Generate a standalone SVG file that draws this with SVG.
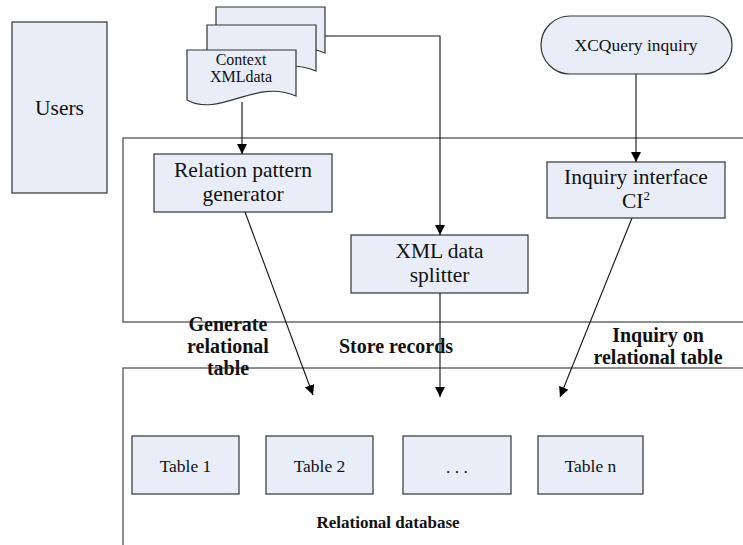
<svg xmlns="http://www.w3.org/2000/svg" width="743" height="545" viewBox="0 0 743 545">
<style>
.box{fill:#E8EDF7;stroke:#333;stroke-width:1.2}
.frame{fill:none;stroke:#444;stroke-width:1.2}
.t{font-family:"Liberation Serif","Times New Roman",serif;fill:#111;text-anchor:middle}
.big{font-size:21.5px}
.mid{font-size:17.5px}
.sm{font-size:16px}
.lbl{font-size:20px;font-weight:bold}
.lbl2{font-size:17px;font-weight:bold}
.con{fill:none;stroke:#111;stroke-width:1.1}
</style>
<defs>
<marker id="arr" viewBox="0 0 10 10" refX="10" refY="5" markerWidth="10" markerHeight="10" markerUnits="userSpaceOnUse" orient="auto">
<path d="M0,0 L10,5 L0,10 z" fill="#000"/>
</marker>
<path id="doc" d="M0,0 H109 V46 C68,28 33,68 0,50 Z"/>
</defs>
<rect width="743" height="545" fill="#fff"/>

<g id="frames">
<rect class="frame" x="123" y="138" width="700" height="184"/>
<rect class="frame" x="123" y="368" width="700" height="300"/>
</g>

<g id="users">
<rect class="box" x="12" y="22" width="95" height="171"/>
<text class="t big" x="59.5" y="115">Users</text>
</g>

<g id="docs">
<use href="#doc" x="216" y="7" class="box"/>
<use href="#doc" x="207" y="25" class="box"/>
<use href="#doc" x="187" y="50" class="box"/>
<text class="t sm" x="241" y="65">Context</text>
<text class="t sm" x="241" y="82">XMLdata</text>
</g>

<g id="xcquery">
<rect class="box" x="541" y="16" width="191" height="58" rx="29" ry="29"/>
<text class="t mid" x="636" y="51">XCQuery inquiry</text>
</g>

<g id="relgen">
<rect class="box" x="154" y="154" width="178" height="58"/>
<text class="t big" x="243" y="177">Relation pattern</text>
<text class="t big" x="243" y="201">generator</text>
</g>

<g id="splitter">
<rect class="box" x="351" y="235" width="177" height="58"/>
<text class="t big" x="439.5" y="258">XML data</text>
<text class="t big" x="439.5" y="282">splitter</text>
</g>

<g id="inquiry">
<rect class="box" x="547" y="162" width="178" height="56"/>
<text class="t big" x="636" y="184">Inquiry interface</text>
<text class="t big" x="636" y="208">CI<tspan font-size="13px" dy="-8">2</tspan></text>
</g>

<g id="table1">
<rect class="box" x="132" y="436" width="107" height="58"/>
<text class="t mid" x="185.5" y="472">Table 1</text>
</g>
<g id="table2">
<rect class="box" x="266" y="436" width="107" height="58"/>
<text class="t mid" x="319.5" y="472">Table 2</text>
</g>
<g id="tabledots">
<rect class="box" x="403" y="436" width="108" height="58"/>
<text class="t mid" x="457" y="473">. . .</text>
</g>
<g id="tablen">
<rect class="box" x="538" y="436" width="105" height="58"/>
<text class="t mid" x="590.5" y="472">Table n</text>
</g>

<g id="connectors">
<path class="con" d="M242,102 V154" marker-end="url(#arr)"/>
<path class="con" d="M325,36 H440 V235" marker-end="url(#arr)"/>
<path class="con" d="M636,74 V162" marker-end="url(#arr)"/>
<path class="con" d="M245,212 L313,395" marker-end="url(#arr)"/>
<path class="con" d="M440,293 V397" marker-end="url(#arr)"/>
<path class="con" d="M632,218 L560,397" marker-end="url(#arr)"/>
</g>

<g id="labels">
<text class="t lbl" x="228" y="331">Generate</text>
<text class="t lbl" x="228" y="353">relational</text>
<text class="t lbl" x="228" y="375">table</text>
<text class="t lbl" x="396" y="353">Store records</text>
<text class="t lbl" x="658" y="342">Inquiry on</text>
<text class="t lbl" x="658" y="364">relational table</text>
<text class="t lbl2" x="388" y="528">Relational database</text>
</g>
</svg>
